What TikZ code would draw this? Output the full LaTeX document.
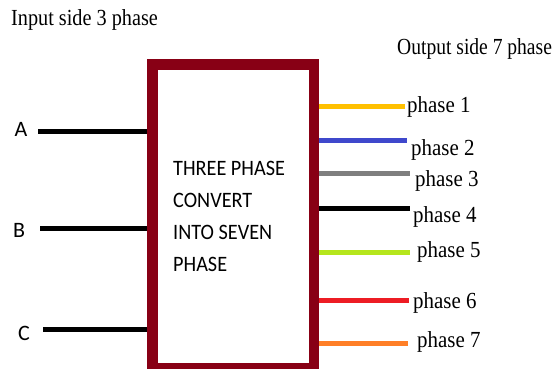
\documentclass[tikz,border=0pt]{standalone}
\usepackage{fontspec}
\setmainfont{Liberation Serif}
\newfontfamily\calib{Carlito}
\definecolor{boxred}{HTML}{880015}
\definecolor{pyellow}{HTML}{FFC000}
\definecolor{pblue}{HTML}{3F48CC}
\definecolor{pgray}{HTML}{7F7F7F}
\definecolor{pgreen}{HTML}{B5E61D}
\definecolor{pred}{HTML}{ED1C24}
\definecolor{porange}{HTML}{FF7F27}
\newcommand{\sqz}[2]{\scalebox{#1}[1]{#2}}
\begin{document}
\begin{tikzpicture}[x=1pt,y=-1pt,
  serif/.style={font=\fontsize{23}{27}\selectfont, inner sep=0pt, anchor=base west},
  sanslbl/.style={font=\calib\fontsize{22}{26}\selectfont, inner sep=0pt},
  wire/.style={line width=5pt},
  convbox/.style={draw=boxred, line width=7pt, minimum width=158pt, minimum height=300pt, inner sep=0pt,
    font=\calib\fontsize{22}{32}\selectfont, align=left}]
\useasboundingbox (0,0) rectangle (559,369);
% titles
\node[serif] (tin) at (11,26) {\sqz{0.88}{Input side 3 phase}};
\node[serif] (tout) at (397,55) {\sqz{0.85}{Output side 7 phase}};
% input labels
\node[sanslbl] (la) at (21,129) {A};
\node[sanslbl] (lb) at (19,230) {B};
\node[sanslbl] (lc) at (24,333) {C};
% input wire start points
\coordinate (a0) at (38,131);
\coordinate (b0) at (40,228);
\coordinate (c0) at (43,329);
% output wire end points
\coordinate (e1) at (405,106);
\coordinate (e2) at (407,140);
\coordinate (e3) at (410,173);
\coordinate (e4) at (410,208);
\coordinate (e5) at (410,252);
\coordinate (e6) at (409,300);
\coordinate (e7) at (408,343);
% box
\path (233,216) node[convbox] (box) {\sqz{0.92}{\parbox{130pt}{\raggedright THREE PHASE\\CONVERT\\INTO SEVEN\\PHASE}}};
% wires
\draw[wire] (a0) -- (a0 -| box.west);
\draw[wire] (b0) -- (b0 -| box.west);
\draw[wire] (c0) -- (c0 -| box.west);
\draw[wire, pyellow] (e1 -| box.east) -- (e1);
\draw[wire, pblue] (e2 -| box.east) -- (e2);
\draw[wire, pgray] (e3 -| box.east) ++(3,0) -- (e3);
\draw[wire, black] (e4 -| box.east) ++(3,0) -- (e4);
\draw[wire, pgreen] (e5 -| box.east) -- (e5);
\draw[wire, pred] (e6 -| box.east) ++(3,0) -- (e6);
\draw[wire, porange] (e7 -| box.east) ++(3,0) -- (e7);
% redraw box border on top
\draw[boxred, line width=7pt] (box.south west) rectangle (box.north east);
% output labels
\node[serif] (p1) at (407,112) {\sqz{0.91}{phase 1}};
\node[serif] (p2) at (411,155) {\sqz{0.91}{phase 2}};
\node[serif] (p3) at (415,186) {\sqz{0.91}{phase 3}};
\node[serif] (p4) at (413,222) {\sqz{0.91}{phase 4}};
\node[serif] (p5) at (417,257) {\sqz{0.91}{phase 5}};
\node[serif] (p6) at (413,308) {\sqz{0.91}{phase 6}};
\node[serif] (p7) at (417,347) {\sqz{0.91}{phase 7}};
\end{tikzpicture}
\end{document}
